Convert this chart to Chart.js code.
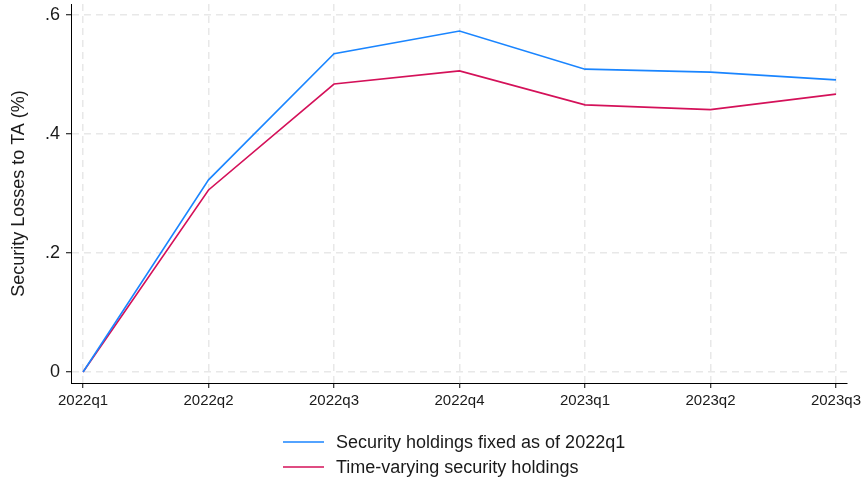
<!DOCTYPE html>
<html lang="en">
<head>
    <meta charset="UTF-8">
    <title>Security losses</title>
    <script src="https://cdn.jsdelivr.net/npm/chart.js"></script>
    <style>
        html, body {
            margin: 0;
            padding: 0;
            background: #fff;
        }
        #wrap {
            width: 864px;
            height: 483px;
        }
    </style>
</head>
<body>
    <div id="wrap"><canvas id="lossChart" width="864" height="483"></canvas></div>

    <script>
        const quarters = ['2022q1', '2022q2', '2022q3', '2022q4', '2023q1', '2023q2', '2023q3'];
        const fixedHoldings = [0, 0.323, 0.535, 0.573, 0.509, 0.504, 0.491];
        const varyingHoldings = [0, 0.306, 0.484, 0.506, 0.449, 0.441, 0.467];
        const yTicks = [0, 0.2, 0.4, 0.6];

        const FONT = '"Liberation Sans", Arial, sans-serif';
        const GRID = '#e8e8e8';

        // legend stacked in two rows under the plot, drawn by hand
        const stackedLegend = {
            id: 'stackedLegend',
            afterDraw(chart) {
                const ctx = chart.ctx;
                const area = chart.chartArea;
                ctx.save();
                ctx.font = '18px ' + FONT;
                const sets = chart.data.datasets;
                let textW = 0;
                sets.forEach(ds => { textW = Math.max(textW, ctx.measureText(ds.label).width); });
                const blockW = 41 + 12 + textW;
                const x0 = Math.round((area.left + area.right) / 2 - blockW / 2) - 5;
                sets.forEach((ds, i) => {
                    const y = 442 + i * 25;
                    ctx.strokeStyle = ds.borderColor;
                    ctx.lineWidth = 1.5;
                    ctx.beginPath();
                    ctx.moveTo(x0, y);
                    ctx.lineTo(x0 + 41, y);
                    ctx.stroke();
                    ctx.fillStyle = '#1a1a1a';
                    ctx.textBaseline = 'middle';
                    ctx.fillText(ds.label, x0 + 53, y + 1);
                });
                ctx.restore();
            }
        };

        const pts = arr => arr.map((v, i) => ({ x: i, y: v }));

        const gridOpts = {
            color: GRID,
            lineWidth: 1.5,
            tickColor: '#000',
            tickBorderDash: [],
            tickWidth: 1,
            tickLength: 5
        };
        const borderOpts = { display: true, color: '#000', width: 1, dash: [7, 5] };

        // keep tick labels from shrinking the plot area
        const noOverflow = s => {
            s.paddingTop = 0;
            s.paddingBottom = 0;
            s.paddingLeft = 0;
            s.paddingRight = 0;
        };

        new Chart(document.getElementById('lossChart'), {
            type: 'line',
            data: {
                datasets: [{
                    label: 'Security holdings fixed as of 2022q1',
                    data: pts(fixedHoldings),
                    borderColor: '#1a85ff',
                    borderWidth: 1.6,
                    pointRadius: 0,
                    tension: 0
                }, {
                    label: 'Time-varying security holdings',
                    data: pts(varyingHoldings),
                    borderColor: '#d41159',
                    borderWidth: 1.6,
                    pointRadius: 0,
                    tension: 0
                }]
            },
            options: {
                responsive: false,
                animation: false,
                layout: { padding: { top: 4, right: 17, bottom: 70, left: 0 } },
                plugins: {
                    legend: { display: false },
                    tooltip: { enabled: false }
                },
                scales: {
                    x: {
                        type: 'linear',
                        min: -0.096,
                        max: 6.088,
                        afterBuildTicks: s => { s.ticks = quarters.map((q, i) => ({ value: i })); },
                        afterFit: s => { s.height = 30; noOverflow(s); },
                        ticks: {
                            callback: v => quarters[v],
                            color: '#1a1a1a',
                            font: { family: FONT, size: 15 },
                            padding: 4,
                            maxRotation: 0,
                            autoSkip: false
                        },
                        grid: gridOpts,
                        border: borderOpts
                    },
                    y: {
                        min: -0.0185,
                        max: 0.6185,
                        afterBuildTicks: s => { s.ticks = yTicks.map(v => ({ value: v })); },
                        afterFit: s => { s.width = 71; noOverflow(s); },
                        ticks: {
                            callback: v => v === 0 ? '0' : String(v).replace(/^0/, ''),
                            color: '#1a1a1a',
                            font: { family: FONT, size: 18 },
                            padding: 6
                        },
                        grid: gridOpts,
                        border: borderOpts,
                        title: {
                            display: true,
                            text: 'Security Losses to TA (%)',
                            color: '#1a1a1a',
                            font: { family: FONT, size: 18 },
                            padding: { top: 8, bottom: 0 }
                        }
                    }
                }
            },
            plugins: [stackedLegend]
        });
    </script>
</body>
</html>
